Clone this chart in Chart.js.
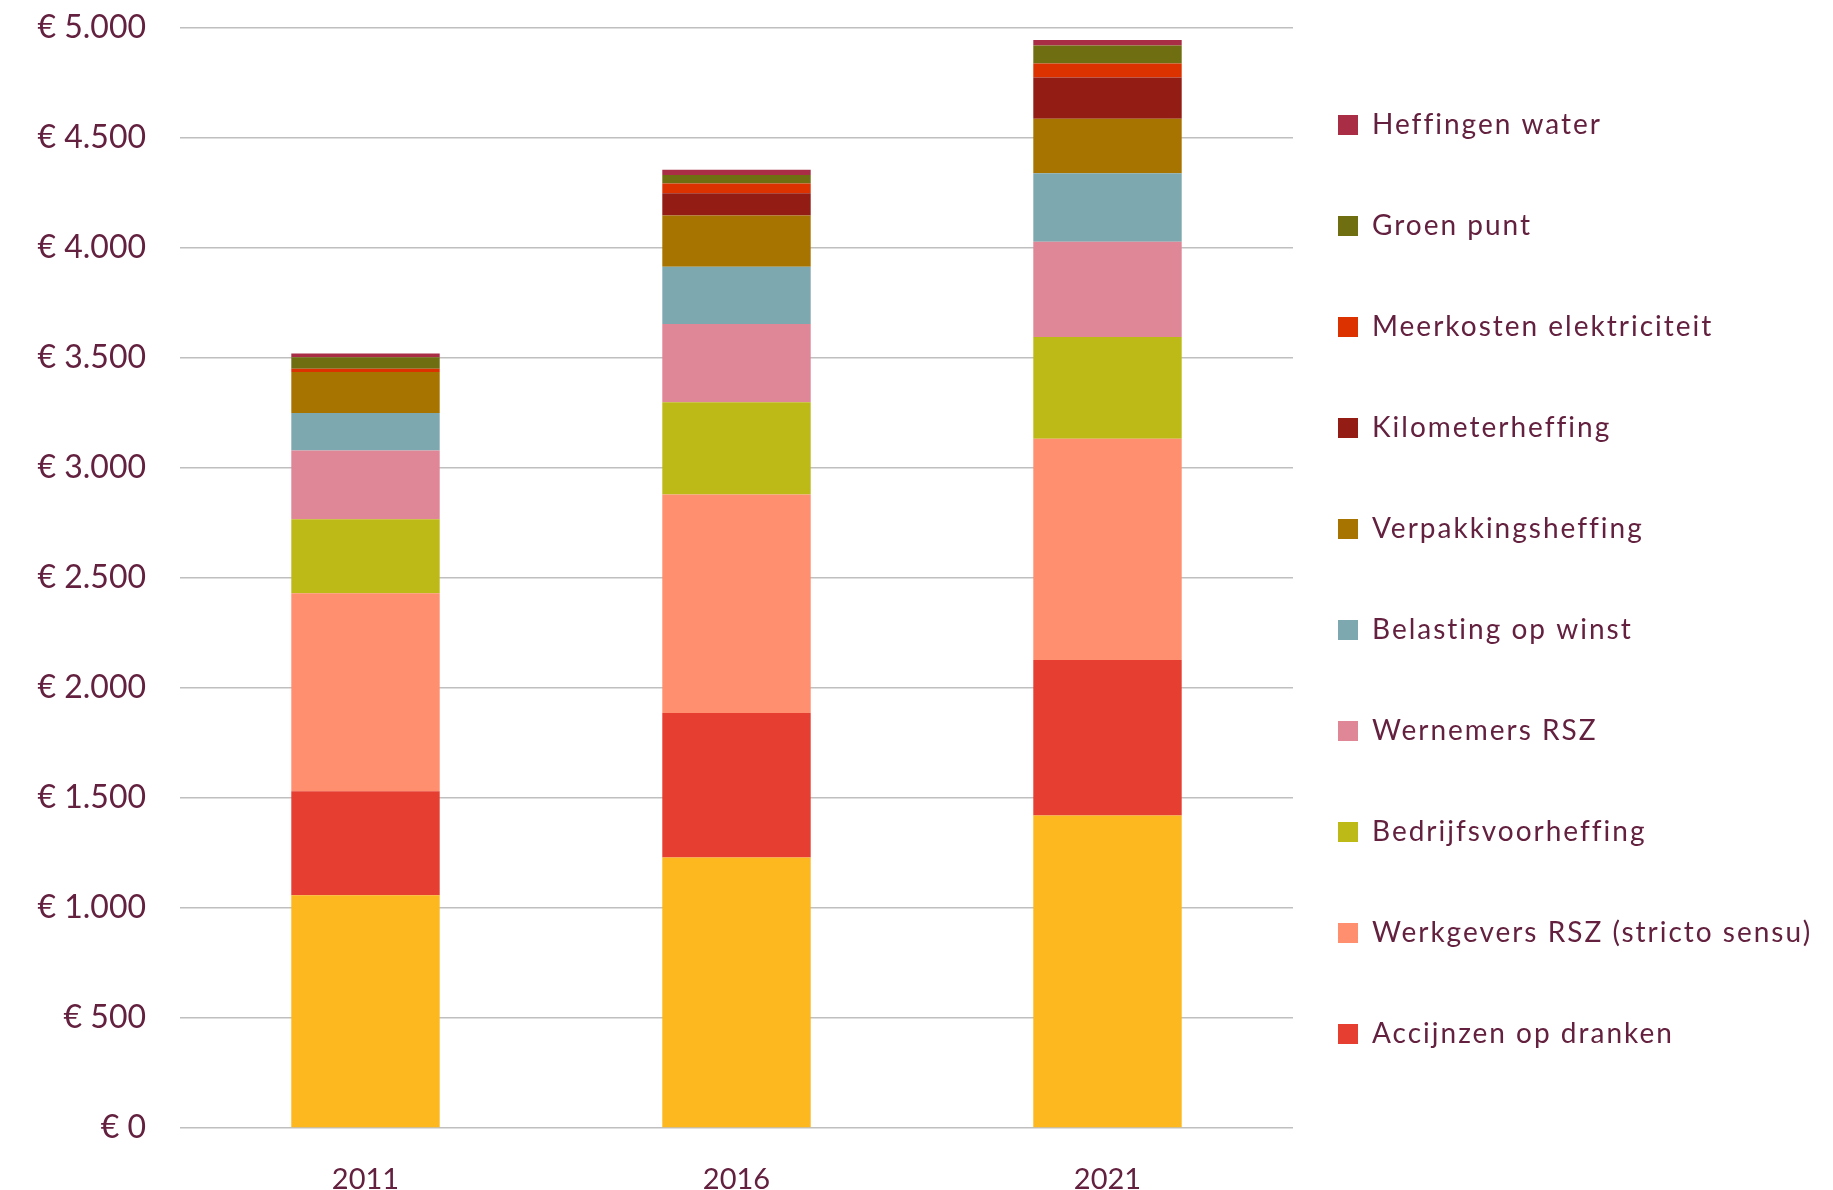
<!DOCTYPE html>
<html>
<head>
<meta charset="utf-8">
<script src="https://cdn.jsdelivr.net/npm/chart.js@4.4.1/dist/chart.umd.min.js"></script>
<style>
html,body{margin:0;padding:0;background:#ffffff;}
#wrap{width:1833px;height:1190px;position:relative;}
</style>
</head>
<body>
<div id="wrap"><canvas id="c" width="1833" height="1190"></canvas></div>
<script>
// ---- data ----
const categories = ['2011', '2016', '2021'];
const yTicks = [0, 500, 1000, 1500, 2000, 2500, 3000, 3500, 4000, 4500, 5000];

const overige              = [1058, 1230, 1420];
const accijnzenOpDranken   = [473, 656, 707];
const werkgeversRSZ        = [900, 993, 1006];
const bedrijfsvoorheffing  = [336, 420, 462];
const wernemersRSZ         = [312, 355, 433];
const belastingOpWinst     = [171, 261, 312];
const verpakkingsheffing   = [186, 233, 247];
const kilometerheffing     = [0, 101, 188];
const meerkostenElektr     = [15, 44, 64];
const groenPunt            = [52, 39, 82];
const heffingenWater       = [18, 24, 24];

const seriesNames = [
  'Overige', 'Accijnzen op dranken', 'Werkgevers RSZ (stricto sensu)', 'Bedrijfsvoorheffing',
  'Wernemers RSZ', 'Belasting op winst', 'Verpakkingsheffing', 'Kilometerheffing',
  'Meerkosten elektriciteit', 'Groen punt', 'Heffingen water'
];
const seriesValues = [
  overige, accijnzenOpDranken, werkgeversRSZ, bedrijfsvoorheffing, wernemersRSZ,
  belastingOpWinst, verpakkingsheffing, kilometerheffing, meerkostenElektr, groenPunt, heffingenWater
];

// ---- styles ----
const seriesColors = [
  '#FDB71F', '#E63E30', '#FF8F6E', '#BDBA18', '#DF8796', '#7EA8AF',
  '#A87400', '#931C15', '#DB3200', '#6F6E10', '#A82D45'
];
const textColor = '#63213F';
const FONT = 'Lato';
const legendFontSize = 28;
const legendPad = 73;
const legendBox = 20;
const legendMarkerX = 1338;
const legendFirstCenterY = 125;
const legendMaxW = 300;
const padRight = 1833 - 1293 - legendMaxW;

function fmtEuro(v) {
  const s = Math.round(v).toString().replace(/\B(?=(\d{3})+(?!\d))/g, '.');
  return '€ ' + s;
}

const legendShift = {
  id: 'legendShift',
  afterLayout(chart) {
    const L = chart.legend;
    if (!L) return;
    const dx = legendMarkerX - (L.left + legendPad);
    L.left += dx;
    L.right = chart.width;
    L.width = L.right - L.left;
    const dy = (legendFirstCenterY - legendFontSize / 2 - legendPad) - L.top;
    L.top += dy; L.bottom += dy;
    if (!L._spaced) {
      const orig = L.draw.bind(L);
      L.draw = function () {
        const c = this.ctx;
        const prev = c.letterSpacing;
        c.letterSpacing = '2px';
        orig();
        c.letterSpacing = prev || '0px';
      };
      L._spaced = true;
    }
  }
};

const datasets = seriesNames.map((name, i) => ({
  label: name,
  data: seriesValues[i],
  backgroundColor: seriesColors[i],
  borderWidth: 0,
  categoryPercentage: 1.0,
  barPercentage: 0.4
}));

new Chart(document.getElementById('c'), {
  type: 'bar',
  data: { labels: categories, datasets: datasets },
  plugins: [legendShift],
  options: {
    responsive: false,
    animation: false,
    devicePixelRatio: 1,
    layout: { padding: { top: 28, right: padRight, bottom: 0, left: 0 } },
    plugins: {
      tooltip: { enabled: false },
      legend: {
        display: true,
        position: 'right',
        align: 'start',
        reverse: true,
        maxWidth: legendMaxW,
        labels: {
          color: textColor,
          font: { family: FONT, size: legendFontSize },
          boxWidth: legendBox,
          boxHeight: legendBox,
          padding: legendPad,
          filter: (item) => item.datasetIndex !== 0
        }
      }
    },
    scales: {
      x: {
        stacked: true,
        grid: { display: false },
        border: { display: false },
        ticks: { color: textColor, font: { family: FONT, size: 29 }, padding: 26 },
        afterFit(scale) { scale.height = 62; }
      },
      y: {
        stacked: true,
        min: 0,
        max: 5000,
        afterBuildTicks(scale) { scale.ticks = yTicks.map(v => ({ value: v })); },
        grid: { color: '#BFBFBF', lineWidth: 1.5, drawTicks: false },
        border: { display: false },
        ticks: {
          color: textColor,
          font: { family: FONT, size: 32 },
          padding: 34,
          callback: (v) => fmtEuro(v)
        },
        afterFit(scale) { scale.width = 180; scale.paddingTop = 0; scale.paddingBottom = 0; }
      }
    }
  }
});
</script>
</body>
</html>
